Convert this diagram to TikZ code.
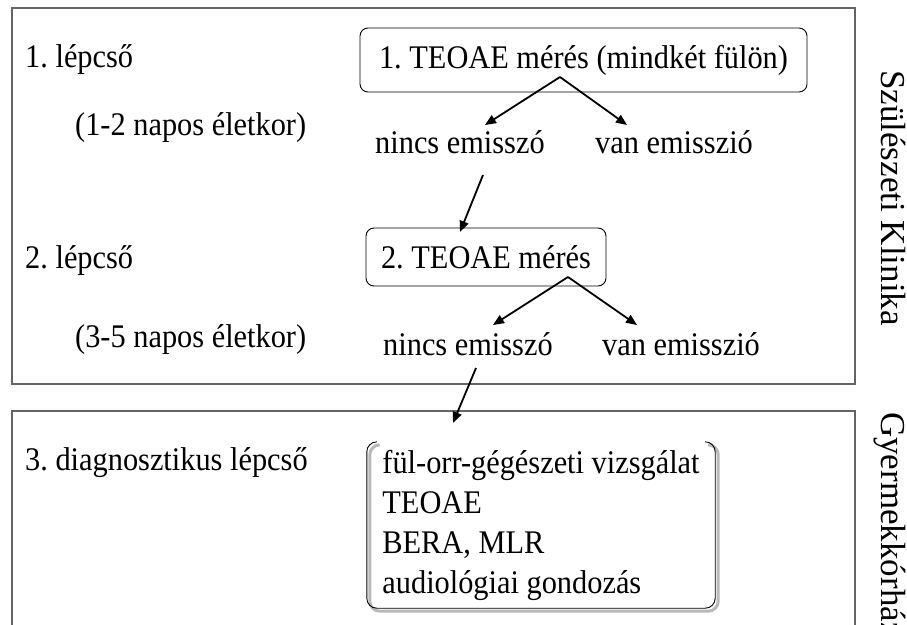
\documentclass[tikz,border=0pt]{standalone}
\usepackage{fontspec}
\setmainfont{Liberation Serif}[FakeStretch=0.92]
\newfontfamily\rotfont{Liberation Serif}
\usetikzlibrary{arrows.meta,calc}
\definecolor{frameGray}{RGB}{100,100,100}
\frenchspacing
\begin{document}
\begin{tikzpicture}[x=1pt,y=-1pt,
  txt/.style={inner sep=0pt, font=\fontsize{33}{40}\selectfont},
  lbl/.style={txt, anchor=base west},
  stepbox/.style={draw, rounded corners=8pt, line width=0.9pt, txt},
  arr/.style={line width=1.8pt, -{Triangle[length=11pt,width=9pt]}},
  frame/.style={draw=frameGray, line width=1.6pt},
  side/.style={inner sep=0pt, font=\rotfont\fontsize{35}{40}\selectfont, rotate=-90, anchor=base west}]
\useasboundingbox (0,0) rectangle (907,624);
\clip (0,0) rectangle (907,624);
\fill[white] (0,0) rectangle (907,624);
\draw[frame] (12,8) rectangle (855,384);
\draw[frame] (12,411) rectangle (855,700);

\node[lbl] (l1) at (25,67) {1. lépcső};
\node[lbl] (l1a) at (75,135) {(1-2 napos életkor)};
\node[lbl] (l2) at (25,268) {2. lépcső};
\node[lbl] (l2a) at (75,347) {(3-5 napos életkor)};
\node[lbl] (l3) at (25,470) {3. diagnosztikus lépcső};

\node[stepbox, minimum width=447pt, minimum height=64pt] (b1) at (583.5,60) {1. TEOAE mérés (mindkét fülön)};
\node[lbl] (n1) at (375,153) {nincs emisszó};
\node[lbl] (v1) at (595,153) {van emisszió};
\node[stepbox, minimum width=240pt, minimum height=58pt] (b2) at (486,257) {2. TEOAE mérés};
\node[lbl] (n2) at (383,355) {nincs emisszó};
\node[lbl] (v2) at (602,355) {van emisszió};

\node[txt, align=left, minimum width=348pt, minimum height=166pt] (b3) at (541,525) {fül-orr-gégészeti vizsgálat\\TEOAE\\BERA, MLR\\audiológiai gondozás};

\draw[gray!55, line width=3pt, rounded corners=10pt]
  ([xshift=13pt,yshift=-3pt]b3.north west) -- ([xshift=3pt,yshift=-3pt]b3.north west)
  -- ([xshift=3pt,yshift=-3pt]b3.south west) -- ([xshift=3pt,yshift=-3pt]b3.south east)
  -- ([xshift=3pt,yshift=-3pt]b3.north east) -- ([xshift=-7pt,yshift=-3pt]b3.north east);
\draw[line width=0.9pt, rounded corners=10pt]
  ([xshift=10pt]b3.north west) -- (b3.north west) -- (b3.south west)
  -- (b3.south east) -- (b3.north east) -- ([xshift=-10pt]b3.north east);

\coordinate (a1) at ($(b1.center)+(-23.5,17)$);
\draw[arr] (a1) -- ($(n1.base west)+(110,-28)$);
\draw[arr] (a1) -- ($(v1.base west)+(32,-28)$);
\draw[arr] ($(n1.base west)+(108,22)$) -- ($(b2.center)+(-26,-25)$);
\coordinate (a2) at ($(b2.center)+(82,20)$);
\draw[arr] (a2) -- ($(n2.base west)+(110,-30)$);
\draw[arr] (a2) -- ($(v2.base west)+(35,-30)$);
\draw[arr] ($(n2.base west)+(93,13)$) -- ($(b3.center)+(-88,-102)$);

\node[side] (t1) at (881,70) {Szülészeti Klinika};
\node[side] (t2) at (881,412) {Gyermekkórház};
\end{tikzpicture}
\end{document}
